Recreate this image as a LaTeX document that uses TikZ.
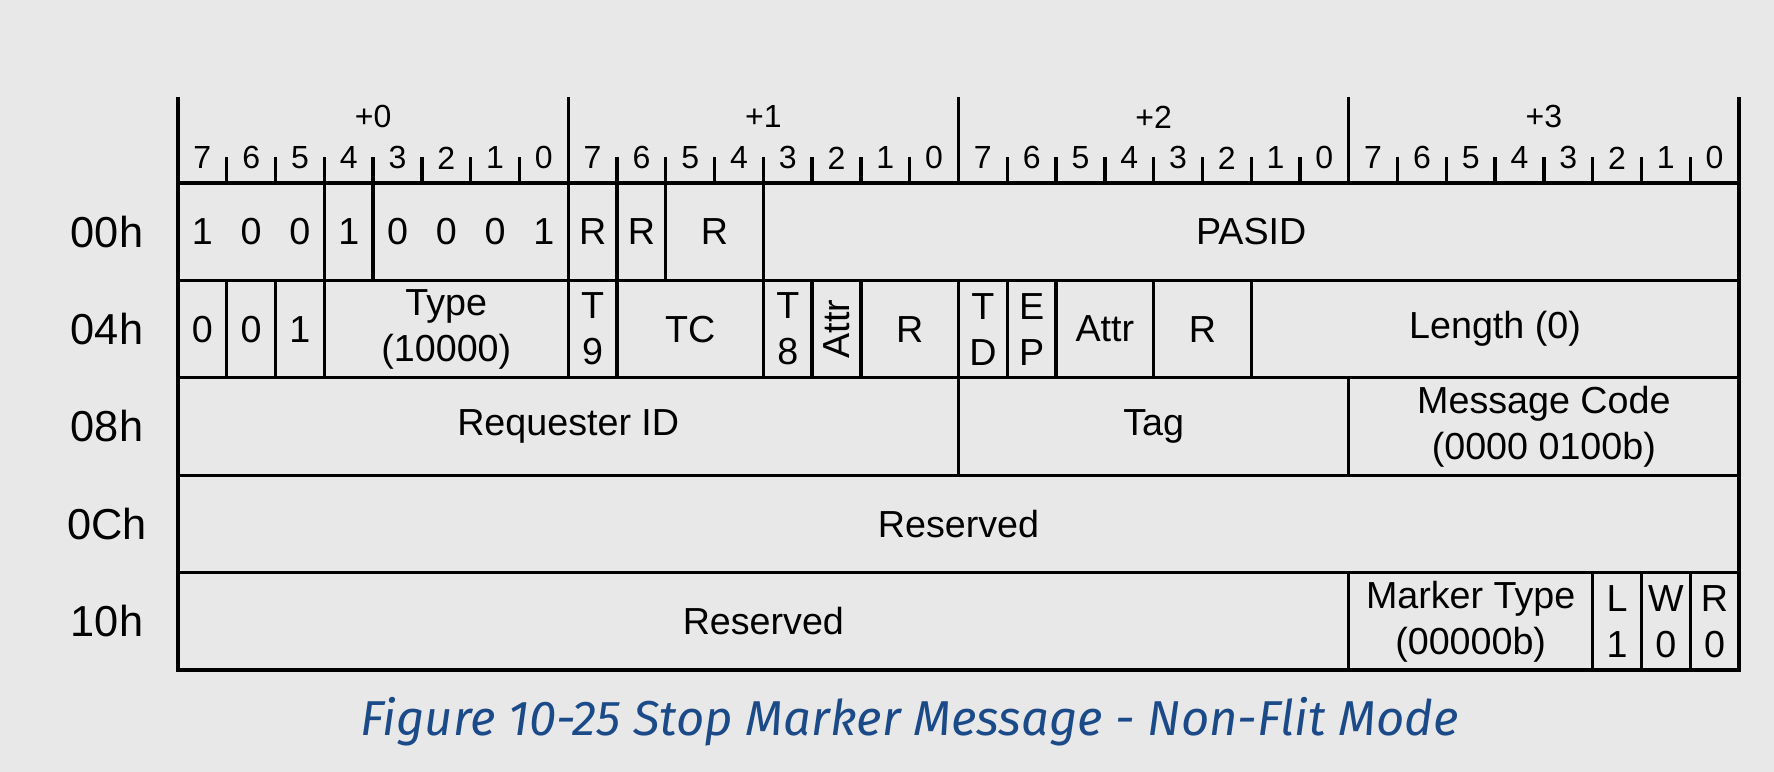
\documentclass[tikz,border=0pt]{standalone}
\usepackage{fontspec}
\setmainfont{Liberation Sans}
\newfontfamily\capfont{Fira Sans}
\definecolor{pagegray}{HTML}{E8E8E8}
\definecolor{capblue}{HTML}{1B4A88}

\tikzset{
  fieldtxt/.style={font=\fontsize{11.3}{13.8}\selectfont, align=center, inner sep=0pt},
  bitnum/.style={font=\fontsize{9.6}{11}\selectfont, inner sep=0pt},
  rowlbl/.style={font=\fontsize{13}{15}\selectfont, inner sep=0pt},
}

% one field: name, row, first col, last col+1, text
\newcommand\fld[5]{%
  \draw (#3,#2) rectangle (#4,#2+1);
  \node[fieldtxt] (#1) at ({(#3+#4)/2},#2+0.5) {#5};}

\begin{document}
\begin{tikzpicture}[x=14.634pt, y=-29.22pt, line width=1pt]
\fill[pagegray] (-3.649,-1.879) rectangle (32.718,6.047);
\useasboundingbox (-3.649,-1.879) rectangle (32.718,6.047);

% header with byte offsets and bit numbers
\draw (0,0) -- (32,0);
\foreach \b in {0,...,4}
  \draw (8*\b,-0.883) -- (8*\b,0);
\foreach \b in {0,...,3}
  \node[bitnum] (byte\b) at (8*\b+4,-0.678) {+\b};
\foreach \i in {0,...,31} {
  \pgfmathtruncatemacro\n{7-mod(\i,8)}
  \node[bitnum] (bit\i) at (\i+0.5,-0.257) {\n};
}
\foreach \i in {1,...,31}
  \draw (\i,-0.267) -- (\i,0);

% row offsets
\foreach \r/\t in {0/00h,1/04h,2/08h,3/0Ch,4/10h}
  \node[rowlbl] (row\r) at (-1.456,\r+0.5) {\t};

% 00h
\draw (0,0) rectangle (3,1);
\foreach \i/\v in {0/1,1/0,2/0}
  \node[fieldtxt] (fmt\i) at (\i+0.5,0.5) {\v};
\fld{fmtb}{0}{3}{4}{1}
\draw (4,0) rectangle (8,1);
\foreach \i/\v in {4/0,5/0,6/0,7/1}
  \node[fieldtxt] (typ\i) at (\i+0.5,0.5) {\v};
\fld{ra}{0}{8}{9}{R}
\fld{rb}{0}{9}{10}{R}
\fld{rc}{0}{10}{12}{R}
\fld{pasid}{0}{12}{32}{PASID}

% 04h
\fld{fa}{1}{0}{1}{0}
\fld{fb}{1}{1}{2}{0}
\fld{fc}{1}{2}{3}{1}
\fld{type}{1}{3}{8}{Type\\(10000)}
\fld{tnine}{1}{8}{9}{T\\9}
\fld{tc}{1}{9}{12}{TC}
\fld{teight}{1}{12}{13}{T\\8}
\draw (13,1) rectangle (14,2);
\node[fieldtxt, rotate=90] (attra) at (13.5,1.5) {Attr};
\fld{rd}{1}{14}{16}{R}
\fld{td}{1}{16}{17}{T\\D}
\fld{ep}{1}{17}{18}{E\\P}
\fld{attrb}{1}{18}{20}{Attr}
\fld{re}{1}{20}{22}{R}
\fld{len}{1}{22}{32}{Length (0)}

% 08h
\fld{reqid}{2}{0}{16}{Requester ID}
\fld{tag}{2}{16}{24}{Tag}
\fld{msgcode}{2}{24}{32}{Message Code\\(0000 0100b)}

% 0Ch
\fld{rsva}{3}{0}{32}{Reserved}

% 10h
\fld{rsvb}{4}{0}{24}{Reserved}
\fld{marker}{4}{24}{29}{Marker Type\\(00000b)}
\fld{lbit}{4}{29}{30}{L\\1}
\fld{wbit}{4}{30}{31}{W\\0}
\fld{rbit}{4}{31}{32}{R\\0}

\node[font=\capfont\itshape\fontsize{14.7}{18}\selectfont, text=capblue, inner sep=0pt]
  (caption) at (15,5.53) {Figure 10-25 Stop Marker Message - Non-Flit Mode};
\end{tikzpicture}
\end{document}
